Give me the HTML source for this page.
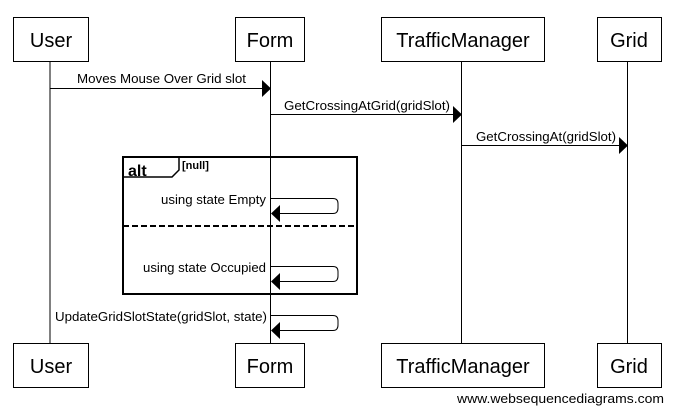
<html><head><style>
body{margin:0;background:#fff;}
svg text{font-family:"Liberation Sans",Arial,sans-serif;}
</style></head><body>
<svg width="673" height="413" xmlns="http://www.w3.org/2000/svg">
<g stroke="#000" stroke-width="1" fill="none">
<line x1="50" y1="61" x2="50" y2="343"/>
<line x1="270.5" y1="61" x2="270.5" y2="343"/>
<line x1="461.5" y1="61" x2="461.5" y2="343"/>
<line x1="627.5" y1="61" x2="627.5" y2="343"/>
</g>
<g stroke="#000" stroke-width="1" fill="#fff">
<rect x="13.5" y="17.5" width="75" height="44"/>
<rect x="235.5" y="17.5" width="69" height="44"/>
<rect x="381.5" y="17.5" width="163" height="44"/>
<rect x="597.5" y="17.5" width="64" height="44"/>
<rect x="13.5" y="343.5" width="75" height="44"/>
<rect x="235.5" y="343.5" width="69" height="44"/>
<rect x="381.5" y="343.5" width="163" height="44"/>
<rect x="597.5" y="343.5" width="64" height="44"/>
</g>
<g font-size="20" text-anchor="middle" fill="#000">
<text x="51" y="47">User</text><text x="270" y="47">Form</text><text x="463" y="47">TrafficManager</text><text x="629" y="47">Grid</text>
<text x="51" y="373">User</text><text x="270" y="373">Form</text><text x="463" y="373">TrafficManager</text><text x="629" y="373">Grid</text>
</g>
<g stroke="#000" fill="none">
<line x1="50" y1="88.5" x2="262" y2="88.5"/>
<line x1="270" y1="114.5" x2="453" y2="114.5"/>
<line x1="461" y1="145.5" x2="619" y2="145.5"/>
<path d="M271 198.5 H333 Q338 198.5 338 203.5 V208 Q338 213.5 333 213.5 H279"/>
<path d="M271 266.5 H333 Q338 266.5 338 271.5 V276 Q338 281.5 333 281.5 H279"/>
<path d="M271 315.5 H333 Q338 315.5 338 320.5 V325 Q338 330.5 333 330.5 H279"/>
<rect x="123" y="157" width="234" height="137" stroke-width="2"/>
<path d="M123 177 H172 L179 170 V157" stroke-width="1.5"/>
<line x1="123" y1="226" x2="357" y2="226" stroke-width="2" stroke-dasharray="6,3"/>
</g>
<g fill="#000">
<polygon points="262,80 271,88.5 262,97"/>
<polygon points="453,106 462,114.5 453,123"/>
<polygon points="619,137 628,145.5 619,154"/>
<polygon points="280,205 271,213.5 280,222"/>
<polygon points="280,273 271,281.5 280,290"/>
<polygon points="280,322 271,330.5 280,339"/>
</g>
<g font-size="13" fill="#000">
<text x="77" y="83" textLength="169" lengthAdjust="spacingAndGlyphs">Moves Mouse Over Grid slot</text>
<text x="284" y="110" textLength="166" lengthAdjust="spacingAndGlyphs">GetCrossingAtGrid(gridSlot)</text>
<text x="476" y="141" textLength="140" lengthAdjust="spacingAndGlyphs">GetCrossingAt(gridSlot)</text>
<text x="161" y="204" textLength="105" lengthAdjust="spacingAndGlyphs">using state Empty</text>
<text x="143" y="272" textLength="123" lengthAdjust="spacingAndGlyphs">using state Occupied</text>
<text x="55" y="321" textLength="212" lengthAdjust="spacingAndGlyphs">UpdateGridSlotState(gridSlot, state)</text>
<text x="182" y="169" font-weight="bold" font-size="11">[null]</text>
<text x="128" y="176" font-weight="bold" font-size="16">alt</text>
<text x="457" y="403" font-size="13" textLength="207" lengthAdjust="spacingAndGlyphs">www.websequencediagrams.com</text>
</g>
</svg>
</body></html>
